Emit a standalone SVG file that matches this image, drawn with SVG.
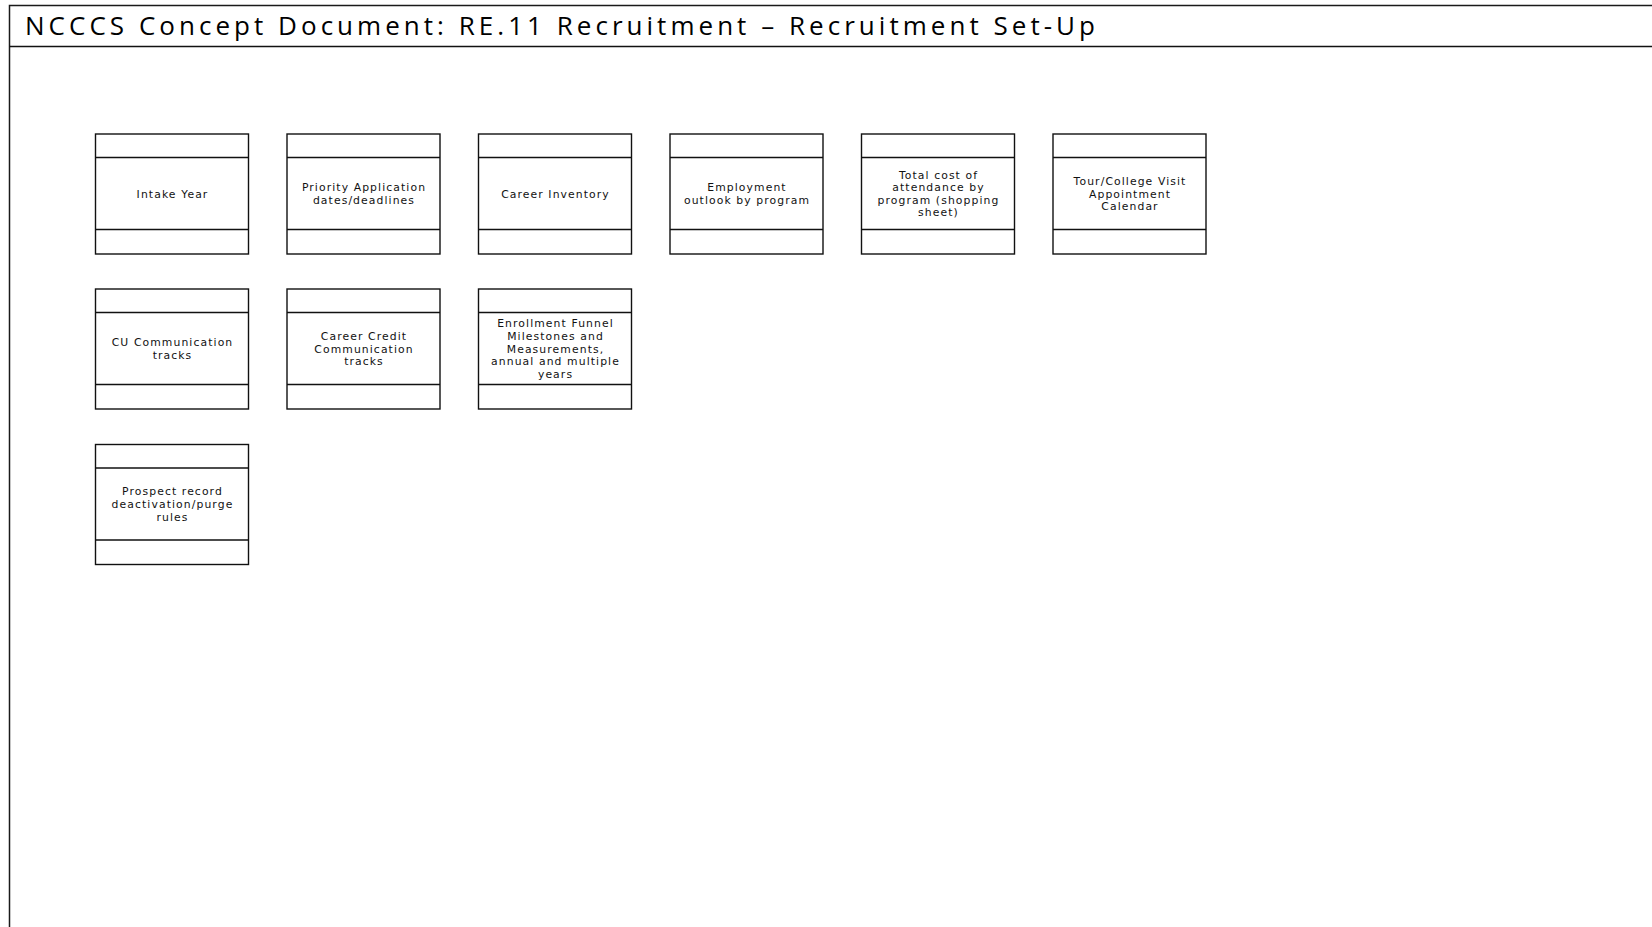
<svg xmlns="http://www.w3.org/2000/svg" width="1652" height="927" viewBox="0 0 1652 927">
  <style>
    .frame { fill: #ffffff; stroke: #1a1a1a; stroke-width: 1.5; }
    .box { fill: #ffffff; stroke: #111111; stroke-width: 1.4; }
    .sep { stroke: #111111; stroke-width: 1.4; }
    .title { font-family: "Open Sans", "Liberation Sans", sans-serif; font-size: 26px; fill: #000000; }
    .lbl { font-family: "DejaVu Sans", "Liberation Sans", sans-serif; font-size: 10.8px; fill: #111111; text-anchor: middle; letter-spacing: 1.1px; }
  </style>
  <defs>
    <!-- three-compartment entity shape, 153 x 120 -->
    <g id="entity">
      <rect class="box" x="0" y="0" width="153" height="120"/>
      <line class="sep" x1="0" y1="23.5" x2="153" y2="23.5"/>
      <line class="sep" x1="0" y1="95.5" x2="153" y2="95.5"/>
    </g>
  </defs>

  <rect width="1652" height="927" fill="#ffffff"/>

  <!-- page frame and header band -->
  <g id="frame">
    <rect class="frame" x="9.5" y="5.5" width="1720" height="1000"/>
    <line class="sep" x1="9.5" y1="46.5" x2="1652" y2="46.5" style="stroke-width:1.5"/>
    <text class="title" x="25" y="34.5" textLength="1070" lengthAdjust="spacing">NCCCS Concept Document:  RE.11 Recruitment – Recruitment Set-Up</text>
  </g>

  <!-- row 1 -->
  <g id="intake-year" transform="translate(95.5,134)">
    <use href="#entity"/>
    <text class="lbl" x="77" y="63.5">Intake Year</text>
  </g>
  <g id="priority-application" transform="translate(287,134)">
    <use href="#entity"/>
    <text class="lbl" x="77" y="57.2">Priority Application</text>
    <text class="lbl" x="77" y="69.8">dates/deadlines</text>
  </g>
  <g id="career-inventory" transform="translate(478.5,134)">
    <use href="#entity"/>
    <text class="lbl" x="77" y="63.5">Career Inventory</text>
  </g>
  <g id="employment-outlook" transform="translate(670,134)">
    <use href="#entity"/>
    <text class="lbl" x="77" y="57.2">Employment</text>
    <text class="lbl" x="77" y="69.8">outlook by program</text>
  </g>
  <g id="total-cost" transform="translate(861.5,134)">
    <use href="#entity"/>
    <text class="lbl" x="77" y="44.6">Total cost of</text>
    <text class="lbl" x="77" y="57.2">attendance by</text>
    <text class="lbl" x="77" y="69.8">program (shopping</text>
    <text class="lbl" x="77" y="82.4">sheet)</text>
  </g>
  <g id="tour-visit" transform="translate(1053,134)">
    <use href="#entity"/>
    <text class="lbl" x="77" y="50.9">Tour/College Visit</text>
    <text class="lbl" x="77" y="63.5">Appointment</text>
    <text class="lbl" x="77" y="76.1">Calendar</text>
  </g>

  <!-- row 2 -->
  <g id="cu-communication" transform="translate(95.5,289)">
    <use href="#entity"/>
    <text class="lbl" x="77" y="57.2">CU Communication</text>
    <text class="lbl" x="77" y="69.8">tracks</text>
  </g>
  <g id="career-credit" transform="translate(287,289)">
    <use href="#entity"/>
    <text class="lbl" x="77" y="50.9">Career Credit</text>
    <text class="lbl" x="77" y="63.5">Communication</text>
    <text class="lbl" x="77" y="76.1">tracks</text>
  </g>
  <g id="enrollment-funnel" transform="translate(478.5,289)">
    <use href="#entity"/>
    <text class="lbl" x="77" y="38.3">Enrollment Funnel</text>
    <text class="lbl" x="77" y="50.9">Milestones and</text>
    <text class="lbl" x="77" y="63.5">Measurements,</text>
    <text class="lbl" x="77" y="76.1">annual and multiple</text>
    <text class="lbl" x="77" y="88.7">years</text>
  </g>

  <!-- row 3 -->
  <g id="prospect-record" transform="translate(95.5,444.5)">
    <use href="#entity"/>
    <text class="lbl" x="77" y="50.9">Prospect record</text>
    <text class="lbl" x="77" y="63.5">deactivation/purge</text>
    <text class="lbl" x="77" y="76.1">rules</text>
  </g>

  <g id="connectors"/>
</svg>
